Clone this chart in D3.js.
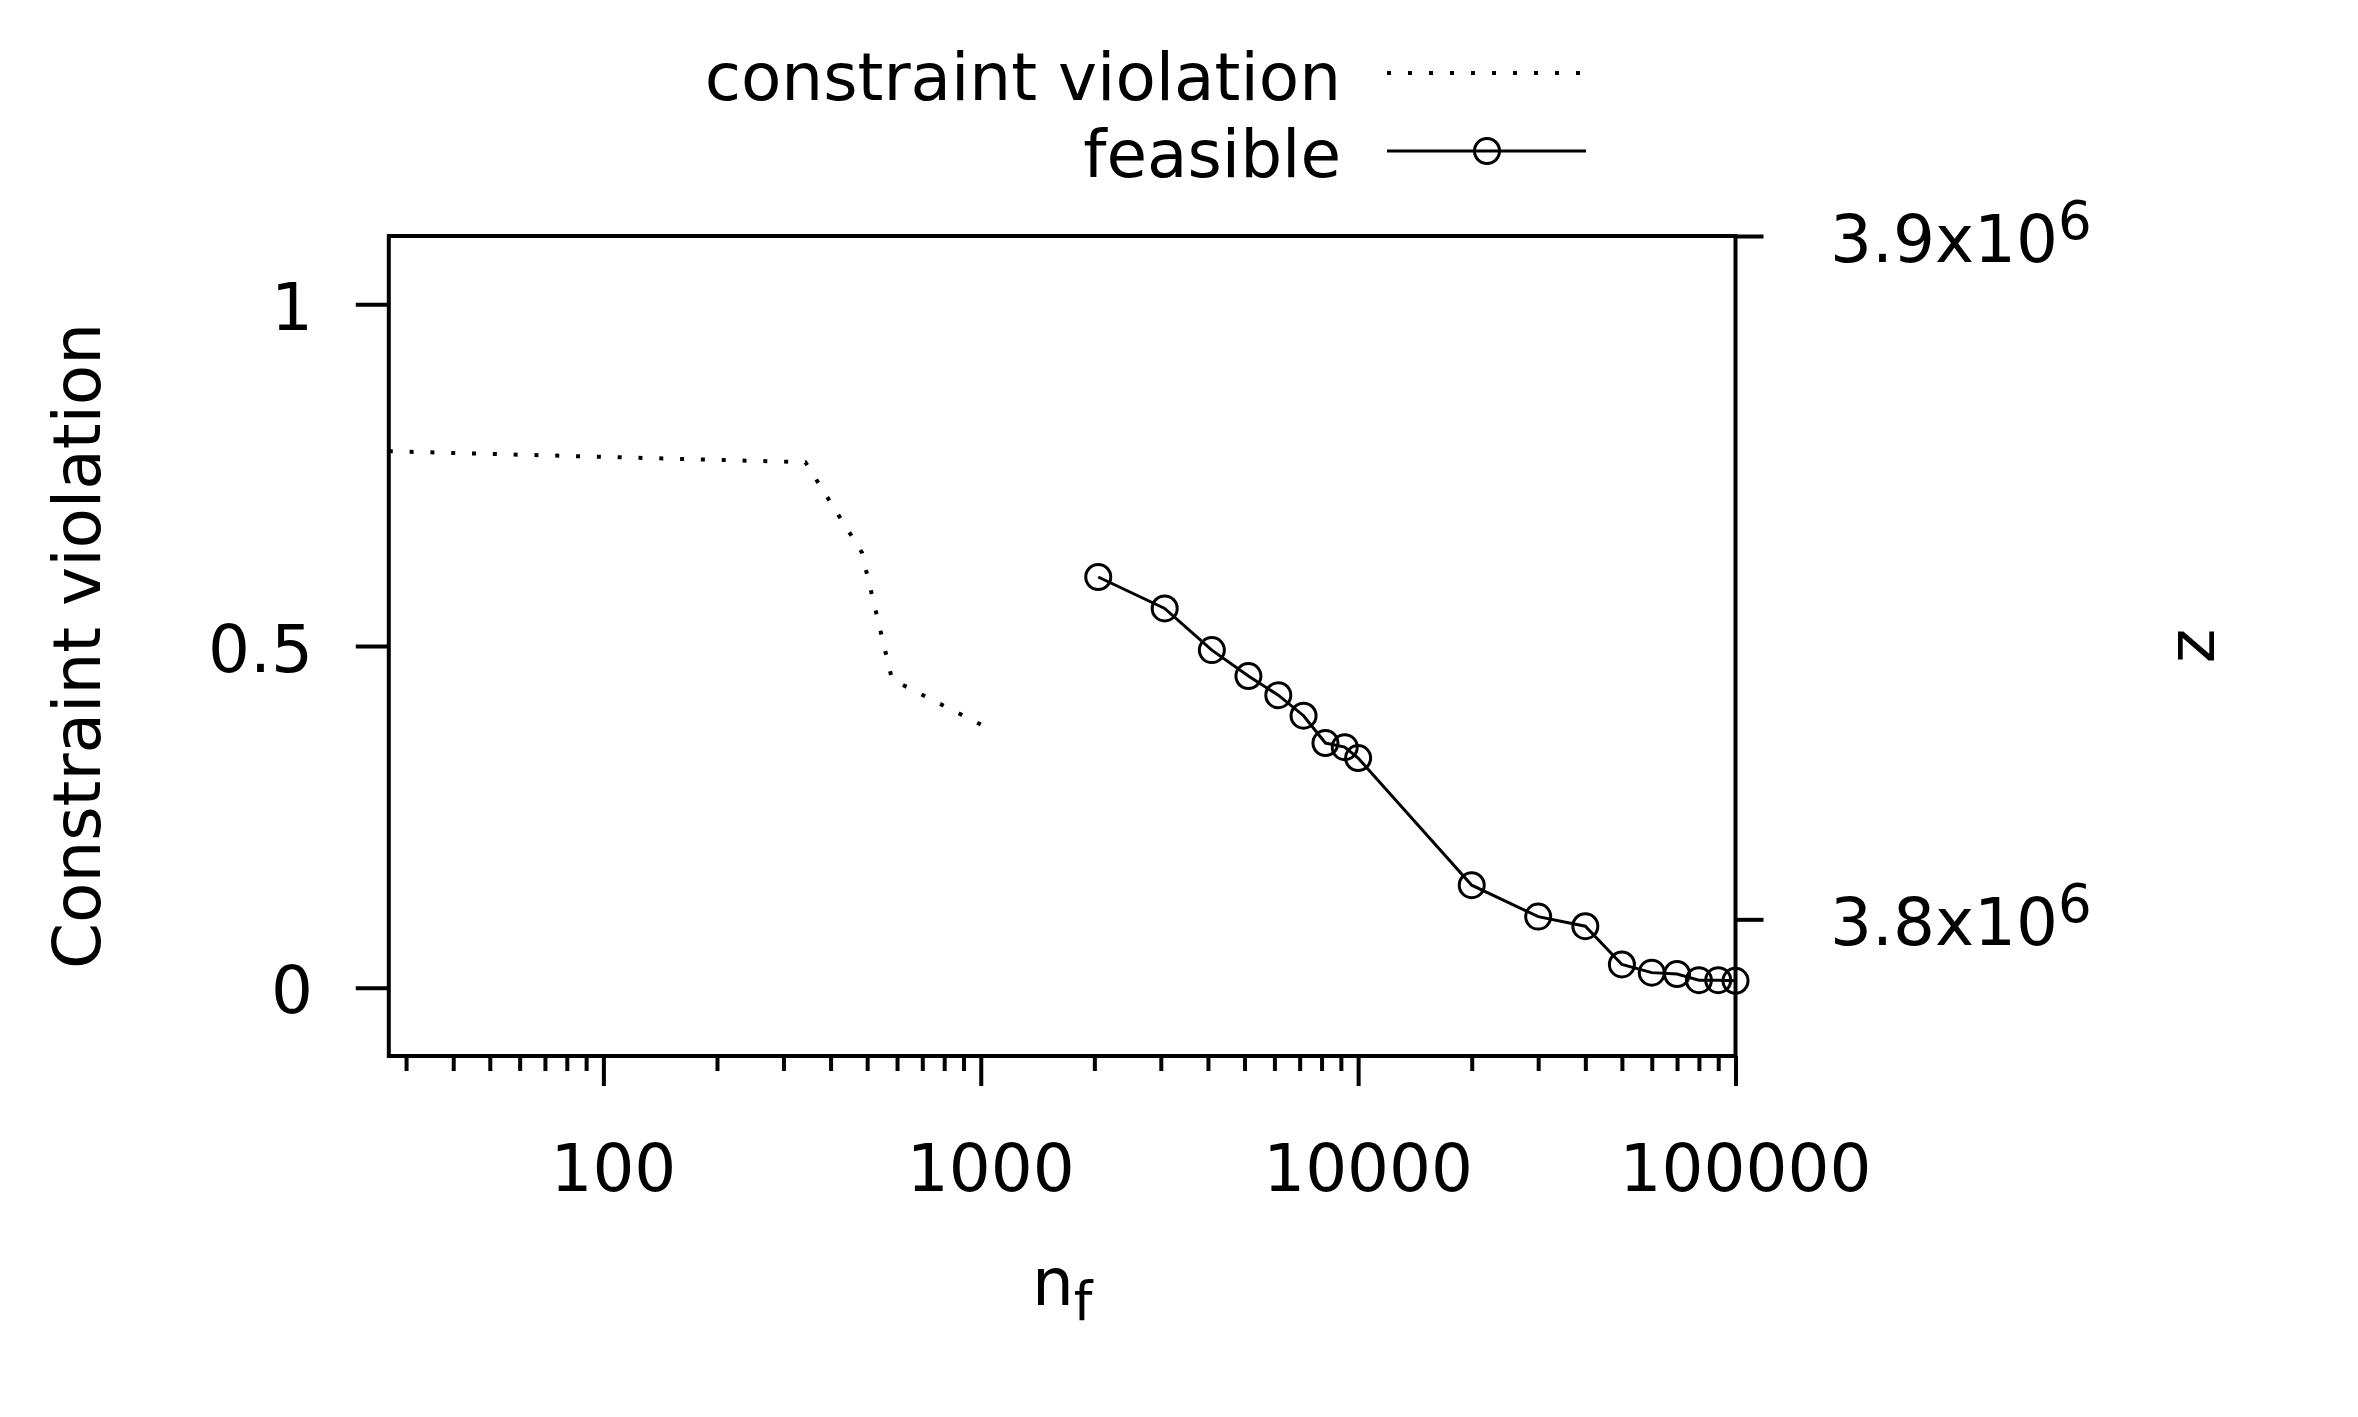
<!DOCTYPE html>
<html>
<head>
<meta charset="utf-8">
<script src="https://cdn.jsdelivr.net/npm/d3@7"></script>
<style>
  body { margin: 0; background: #fff; }
  svg text { font-family: "DejaVu Sans", sans-serif; fill: #000; }
</style>
</head>
<body>
<svg id="chart" width="2358" height="1417"></svg>
<script>
// constraint violation curve (left axis)
var cvX = [27, 343, 484, 582, 1000];
var cvY = [0.785, 0.769, 0.637, 0.451, 0.385];

// feasible solutions, objective z (right axis)
var feasX = [2048, 3072, 4096, 5120, 6144, 7168, 8192, 9216, 10000,
             20000, 30000, 40000, 50000, 60000, 70000, 80000, 90000, 100000];
var feasZ = [3850100, 3845500, 3839400, 3835600, 3832800, 3829800, 3825800, 3825200, 3823600,
             3805000, 3800400, 3799000, 3793400, 3792200, 3792000, 3791100, 3791100, 3791000];

// ticks
var xMajor = [100, 1000, 10000, 100000];
var xLabels = ["100", "1000", "10000", "100000"];
var yTicks = [0, 0.5, 1];
var yLabels = ["0", "0.5", "1"];
var y2Ticks = [3.8e6, 3.9e6];
var y2Mant = ["3.8x10", "3.9x10"];
var y2Exp = "6";

var legendNames = ["constraint violation", "feasible"];

var FS = 66, FS_SMALL = 53;
// plot frame (note: "top" is taken by window.top, so prefix these)
var pLeft = 388.8, pRight = 1735.5, pTop = 236, pBottom = 1056;

var svg = d3.select("#chart");

var x = d3.scaleLog().domain([27, 1e5]).range([pLeft, pRight]);
var y = d3.scaleLinear().domain([-0.1, 1.1]).range([pBottom, pTop]);
var y2 = d3.scaleLinear().domain([3.78e6, 3.9e6]).range([pBottom, pTop]);

// minor x ticks: the 2..9 multiples inside the domain
var xMinor = x.ticks().filter(function (d) {
    return xMajor.indexOf(d) == -1;
});

function styleAxis(g) {
    g.select(".domain").remove();
    g.selectAll("line").attr("stroke", "#000").attr("stroke-width", 4);
    g.selectAll("text").remove();
}

// dotted pattern that starts and ends on a dot, like gnuplot's
function dotPattern(len) {
    var n = Math.max(1, Math.round((len - 4) / 21));
    return "4 " + ((len - 4) / n - 4);
}

// x axis: major + minor ticks
svg.append("g")
    .attr("transform", "translate(0," + pBottom + ")")
    .call(d3.axisBottom(x).tickValues(xMinor).tickSize(15))
    .call(styleAxis);
svg.append("g")
    .attr("transform", "translate(0," + pBottom + ")")
    .call(d3.axisBottom(x).tickValues(xMajor).tickSize(30))
    .call(styleAxis);

svg.append("g").selectAll("text")
    .data(xMajor)
    .enter().append("text")
    .attr("x", function (d) { return x(d) + 10; })
    .attr("y", 1191)
    .attr("text-anchor", "middle")
    .attr("font-size", FS)
    .text(function (d, i) { return xLabels[i]; });

// left axis
svg.append("g")
    .attr("transform", "translate(" + pLeft + ",0)")
    .call(d3.axisLeft(y).tickValues(yTicks).tickSize(33))
    .call(styleAxis);

svg.append("g").selectAll("text")
    .data(yTicks)
    .enter().append("text")
    .attr("x", 313)
    .attr("y", function (d) { return y(d); })
    .attr("dy", "0.39em")
    .attr("text-anchor", "end")
    .attr("font-size", FS)
    .text(function (d, i) { return yLabels[i]; });

// right axis (z)
svg.append("g")
    .attr("transform", "translate(" + pRight + ",0)")
    .call(d3.axisRight(y2).tickValues(y2Ticks).tickSize(28))
    .call(styleAxis);

var y2Text = svg.append("g").selectAll("text")
    .data(y2Ticks)
    .enter().append("text")
    .attr("x", 1830)
    .attr("y", function (d) { return y2(d) + 26; })
    .attr("font-size", FS);
y2Text.append("tspan").text(function (d, i) { return y2Mant[i]; });
y2Text.append("tspan")
    .attr("font-size", FS_SMALL)
    .attr("dy", -23)
    .text(y2Exp);

// frame
svg.append("rect")
    .attr("x", pLeft).attr("y", pTop)
    .attr("width", pRight - pLeft).attr("height", pBottom - pTop)
    .attr("fill", "none")
    .attr("stroke", "#000")
    .attr("stroke-width", 4);

// constraint violation, dotted
var cvLine = d3.line()
    .x(function (d) { return x(d[0]); })
    .y(function (d) { return y(d[1]); });

var cvPath = svg.append("path")
    .datum(d3.zip(cvX, cvY))
    .attr("d", cvLine)
    .attr("fill", "none")
    .attr("stroke", "#000")
    .attr("stroke-width", 4);
cvPath.attr("stroke-dasharray", dotPattern(cvPath.node().getTotalLength()));

// feasible, solid with open circles
var feasLine = d3.line()
    .x(function (d) { return x(d[0]); })
    .y(function (d) { return y2(d[1]); });

var feasData = d3.zip(feasX, feasZ);

svg.append("path")
    .datum(feasData)
    .attr("d", feasLine)
    .attr("fill", "none")
    .attr("stroke", "#000")
    .attr("stroke-width", 3);

svg.append("g").selectAll("circle")
    .data(feasData)
    .enter().append("circle")
    .attr("cx", function (d) { return x(d[0]); })
    .attr("cy", function (d) { return y2(d[1]); })
    .attr("r", 12.5)
    .attr("fill", "none")
    .attr("stroke", "#000")
    .attr("stroke-width", 3);

// legend
var legBase = [100, 177];
var legLineY = [73, 151];
svg.append("g").selectAll("text")
    .data(legendNames)
    .enter().append("text")
    .attr("x", 1341)
    .attr("y", function (d, i) { return legBase[i]; })
    .attr("text-anchor", "end")
    .attr("font-size", FS)
    .text(function (d) { return d; });

svg.append("line")
    .attr("x1", 1387).attr("x2", 1580)
    .attr("y1", legLineY[0]).attr("y2", legLineY[0])
    .attr("stroke", "#000").attr("stroke-width", 4)
    .attr("stroke-dasharray", dotPattern(193));
svg.append("line")
    .attr("x1", 1387).attr("x2", 1586)
    .attr("y1", legLineY[1]).attr("y2", legLineY[1])
    .attr("stroke", "#000").attr("stroke-width", 3);
svg.append("circle")
    .attr("cx", 1487).attr("cy", legLineY[1]).attr("r", 12.5)
    .attr("fill", "none").attr("stroke", "#000").attr("stroke-width", 3);

// axis titles
svg.append("text")
    .attr("transform", "translate(100," + (pTop + pBottom) / 2 + ") rotate(-90)")
    .attr("text-anchor", "middle")
    .attr("font-size", FS)
    .text("Constraint violation");

svg.append("text")
    .attr("transform", "translate(2214," + (pTop + pBottom) / 2 + ") rotate(-90)")
    .attr("text-anchor", "middle")
    .attr("font-size", FS)
    .text("z");

var xTitle = svg.append("text")
    .attr("x", (pLeft + pRight) / 2)
    .attr("y", 1305)
    .attr("text-anchor", "middle")
    .attr("font-size", FS);
xTitle.append("tspan").text("n");
xTitle.append("tspan").attr("font-size", FS_SMALL).attr("dy", 15).text("f");
</script>
</body>
</html>
